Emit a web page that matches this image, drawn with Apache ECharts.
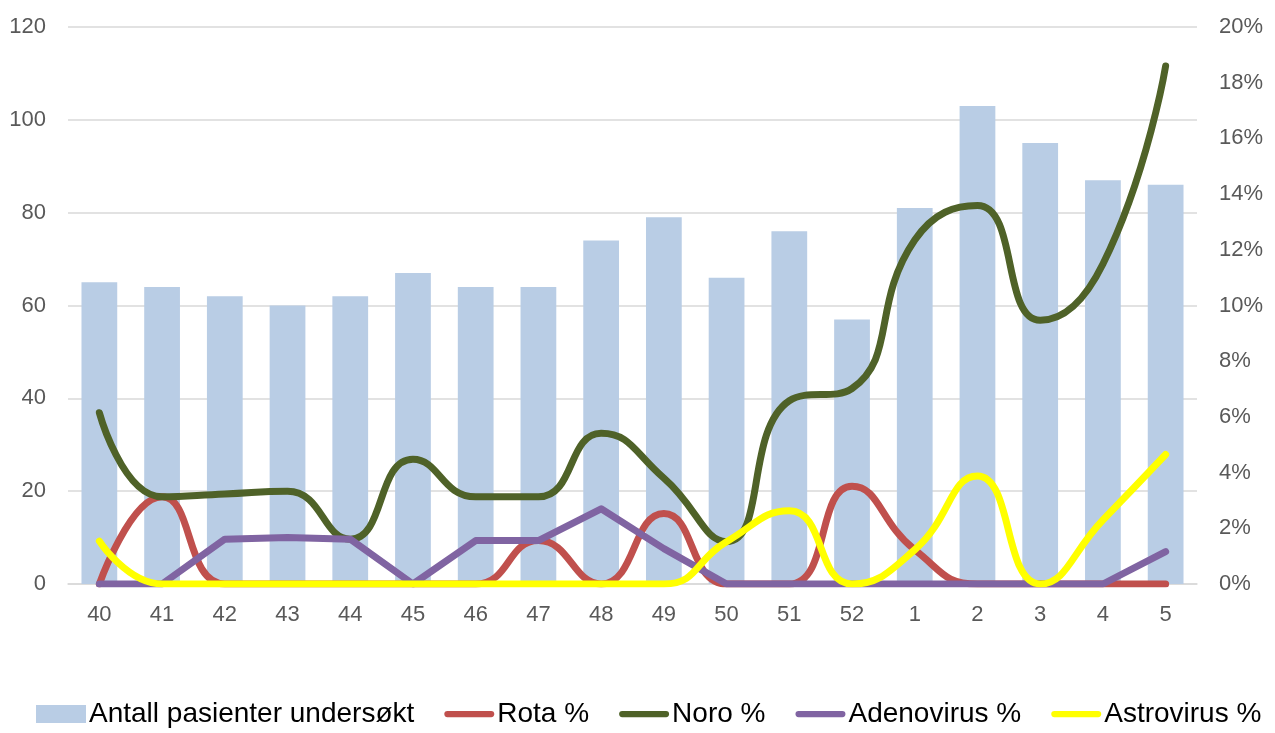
<!DOCTYPE html>
<html>
<head>
<meta charset="utf-8">
<script src="https://cdn.jsdelivr.net/npm/echarts@6/dist/echarts.min.js"></script>
<style>
html,body{margin:0;padding:0;background:#fff;}
#chart{width:1275px;height:733px;}
</style>
</head>
<body>
<div id="chart"></div>
<script>
const weeks = ['40','41','42','43','44','45','46','47','48','49','50','51','52','1','2','3','4','5'];
const patients = [65,64,62,60,62,67,64,64,74,79,66,76,57,81,103,95,87,86];
const rota = [0,3.13,0,0,0,0,0,1.56,0,2.53,0,0,3.51,1.23,0,0,0,0];
const noro = [6.15,3.13,3.23,3.33,1.61,4.48,3.13,3.13,5.41,3.80,1.52,6.58,7.02,12.35,13.59,9.47,11.49,18.60];
const adeno = [0,0,1.61,1.67,1.61,0,1.56,1.56,2.70,1.27,0,0,0,0,0,0,0,1.16];
const astro = [1.54,0,0,0,0,0,0,0,0,0,1.52,2.63,0,1.23,3.88,0,2.30,4.65];

const FONT = '"Liberation Sans", Arial, sans-serif';
const chart = echarts.init(document.getElementById('chart'), null, {renderer:'canvas'});
const lineIcon = 'path://M3,0 L45,0 A3,3 0 0 1 45,6 L3,6 A3,3 0 0 1 3,0 Z';

function lineSeries(name, data, color, smooth){
  return {
    name, type:'line', yAxisIndex:1, data,
    smooth: smooth, symbol:'none', showSymbol:false,
    lineStyle:{color, width:7, cap:'round', join:'round'},
    itemStyle:{color},
    z: 3
  };
}

chart.setOption({
  animation:false,
  textStyle:{fontFamily:FONT},
  grid:{left:68, right:78, top:27, bottom:149, containLabel:false},
  legend:{
    top:700, left:36, right:0, padding:0,
    itemWidth:50, itemHeight:18, itemGap:30,
    textStyle:{fontSize:28, color:'#000', fontFamily:FONT, padding:[0,0,0,-2]},
    data:[
      {name:'Antall pasienter undersøkt', icon:'rect'},
      {name:'Rota %', icon:lineIcon},
      {name:'Noro %', icon:lineIcon},
      {name:'Adenovirus %', icon:lineIcon},
      {name:'Astrovirus %', icon:lineIcon}
    ]
  },
  xAxis:{
    type:'category', data:weeks,
    axisLine:{show:true, lineStyle:{color:'#D9D9D9', width:1.5}},
    axisTick:{show:false},
    axisLabel:{fontSize:22, color:'#595959', margin:20, fontFamily:FONT}
  },
  yAxis:[
    {type:'value', min:0, max:120, interval:20,
     axisLine:{show:false}, axisTick:{show:false},
     splitLine:{lineStyle:{color:'#D9D9D9', width:1.5}},
     axisLabel:{fontSize:22, color:'#595959', margin:22, fontFamily:FONT}},
    {type:'value', min:0, max:20, interval:2, position:'right',
     axisLine:{show:false}, axisTick:{show:false}, splitLine:{show:false},
     axisLabel:{fontSize:22, color:'#595959', margin:22, fontFamily:FONT,
       formatter: v => v + '%'}}
  ],
  series:[
    {name:'Antall pasienter undersøkt', type:'bar', data:patients, barWidth:'57%',
     itemStyle:{color:'#B9CDE5'}, z:1},
    lineSeries('Rota %', rota, '#C0504D', 0.5),
    lineSeries('Noro %', noro, '#4F6228', 0.5),
    lineSeries('Adenovirus %', adeno, '#8064A2', false),
    lineSeries('Astrovirus %', astro, '#FFFF00', 0.5)
  ]
});
</script>
</body>
</html>
